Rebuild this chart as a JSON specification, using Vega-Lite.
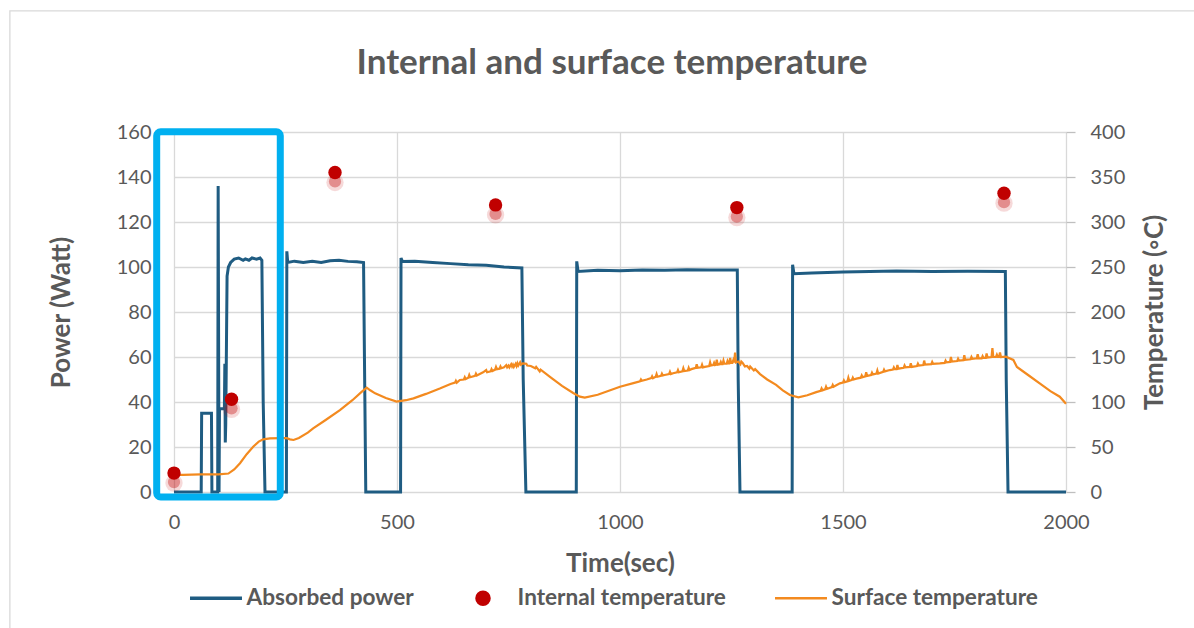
{
  "$schema": "https://vega.github.io/schema/vega-lite/v6.json",
  "width": 892,
  "height": 360,
  "autosize": {"type": "none"},
  "padding": {"left": 174, "top": 132, "right": 128, "bottom": 136},
  "background": "white",
  "title": {"text": "Internal and surface temperature", "font": "Lato", "fontSize": 35, "fontWeight": "bold", "color": "#595959", "anchor": "middle", "frame": "group", "offset": -71, "dx": -8},
  "datasets": {
    "power": [
      {"t": 0, "w": 0}, {"t": 61, "w": 0}, {"t": 62, "w": 35}, {"t": 84, "w": 35}, {"t": 85, "w": 0},
      {"t": 98, "w": 0}, {"t": 99, "w": 136}, {"t": 101, "w": 0}, {"t": 102, "w": 37}, {"t": 113, "w": 37},
      {"t": 114, "w": 57}, {"t": 115, "w": 22}, {"t": 116, "w": 30}, {"t": 119, "w": 96}, {"t": 122, "w": 100},
      {"t": 127, "w": 102}, {"t": 135, "w": 103.5}, {"t": 145, "w": 104}, {"t": 155, "w": 103}, {"t": 160, "w": 103.6},
      {"t": 168, "w": 103}, {"t": 175, "w": 104}, {"t": 185, "w": 103.5}, {"t": 193, "w": 104}, {"t": 197, "w": 103},
      {"t": 200, "w": 40}, {"t": 204, "w": 0}, {"t": 252, "w": 0}, {"t": 253, "w": 107}, {"t": 255, "w": 102},
      {"t": 270, "w": 102.6}, {"t": 290, "w": 102}, {"t": 310, "w": 102.5}, {"t": 330, "w": 102}, {"t": 350, "w": 102.8},
      {"t": 370, "w": 103}, {"t": 390, "w": 102.5}, {"t": 410, "w": 102.3}, {"t": 425, "w": 102}, {"t": 427, "w": 60},
      {"t": 430, "w": 0}, {"t": 508, "w": 0}, {"t": 509, "w": 104}, {"t": 512, "w": 102.5}, {"t": 540, "w": 102.6},
      {"t": 580, "w": 102}, {"t": 620, "w": 101.5}, {"t": 660, "w": 101}, {"t": 700, "w": 100.8}, {"t": 740, "w": 100},
      {"t": 780, "w": 99.6}, {"t": 783, "w": 50}, {"t": 789, "w": 0}, {"t": 902, "w": 0}, {"t": 903, "w": 102.5},
      {"t": 906, "w": 98}, {"t": 950, "w": 98.5}, {"t": 1000, "w": 98.3}, {"t": 1050, "w": 98.7}, {"t": 1100, "w": 98.6},
      {"t": 1150, "w": 98.8}, {"t": 1200, "w": 98.7}, {"t": 1263, "w": 98.7}, {"t": 1265, "w": 50}, {"t": 1269, "w": 0},
      {"t": 1386, "w": 0}, {"t": 1387, "w": 101}, {"t": 1390, "w": 97}, {"t": 1430, "w": 97.3}, {"t": 1500, "w": 97.8},
      {"t": 1560, "w": 98}, {"t": 1620, "w": 98.2}, {"t": 1700, "w": 98}, {"t": 1780, "w": 98.1}, {"t": 1864, "w": 98},
      {"t": 1866, "w": 50}, {"t": 1870, "w": 0}, {"t": 2000, "w": 0}
    ],
    "surface": [
      {"t": 0, "T": 19}, {"t": 20, "T": 19}, {"t": 60, "T": 19.5}, {"t": 100, "T": 19.5}, {"t": 122, "T": 20.5},
      {"t": 135, "T": 25}, {"t": 148, "T": 32}, {"t": 163, "T": 42}, {"t": 178, "T": 50.5}, {"t": 190, "T": 56},
      {"t": 200, "T": 58.5}, {"t": 215, "T": 59.5}, {"t": 240, "T": 59.8}, {"t": 253, "T": 59.8}, {"t": 260, "T": 58.5},
      {"t": 268, "T": 57.8}, {"t": 280, "T": 60}, {"t": 300, "T": 66}, {"t": 312, "T": 70.7}, {"t": 340, "T": 80},
      {"t": 372, "T": 91}, {"t": 400, "T": 102}, {"t": 420, "T": 111}, {"t": 432, "T": 116}, {"t": 440, "T": 113},
      {"t": 451, "T": 109.6}, {"t": 475, "T": 104.5}, {"t": 499, "T": 100.4}, {"t": 520, "T": 102}, {"t": 537, "T": 104},
      {"t": 565, "T": 109}, {"t": 596, "T": 115}, {"t": 620, "T": 120}, {"t": 630, "T": 121.5}, {"t": 632, "T": 123.5}, {"t": 634, "T": 121.5},
      {"t": 641, "T": 124.5}, {"t": 650, "T": 125}, {"t": 652, "T": 127.5}, {"t": 654, "T": 125.5}, {"t": 660, "T": 127},
      {"t": 662, "T": 130}, {"t": 664, "T": 127.5}, {"t": 675, "T": 129}, {"t": 677, "T": 131.5}, {"t": 679, "T": 129.5}, {"t": 693, "T": 133}, {"t": 700, "T": 135.5}, {"t": 702, "T": 133},
      {"t": 710, "T": 134}, {"t": 712, "T": 136.5}, {"t": 714, "T": 134.5},
      {"t": 720, "T": 136}, {"t": 722, "T": 139}, {"t": 724, "T": 136.5}, {"t": 730, "T": 137}, {"t": 732, "T": 139.5}, {"t": 734, "T": 137.5}, {"t": 740, "T": 138.5}, {"t": 745, "T": 141}, {"t": 747, "T": 138.5}, {"t": 750, "T": 140.5},
      {"t": 752, "T": 138.5}, {"t": 756, "T": 142}, {"t": 758, "T": 139.5}, {"t": 760, "T": 141.5}, {"t": 762, "T": 139}, {"t": 766, "T": 142.5}, {"t": 768, "T": 140}, {"t": 770, "T": 143}, {"t": 772, "T": 140.5},
      {"t": 776, "T": 144}, {"t": 778, "T": 141.5},
      {"t": 782, "T": 143}, {"t": 790, "T": 142.5}, {"t": 792, "T": 140.5}, {"t": 800, "T": 140}, {"t": 810, "T": 137.5}, {"t": 812, "T": 139}, {"t": 820, "T": 134}, {"t": 822, "T": 136}, {"t": 843, "T": 128},
      {"t": 870, "T": 118}, {"t": 895, "T": 110}, {"t": 910, "T": 106}, {"t": 921, "T": 104.8}, {"t": 950, "T": 108},
      {"t": 1000, "T": 117}, {"t": 1030, "T": 121}, {"t": 1045, "T": 123}, {"t": 1047, "T": 125}, {"t": 1049, "T": 123.5}, {"t": 1060, "T": 125}, {"t": 1070, "T": 126.5}, {"t": 1072, "T": 128.5}, {"t": 1074, "T": 126.5}, {"t": 1080, "T": 128}, {"t": 1082, "T": 131},
      {"t": 1084, "T": 128}, {"t": 1092, "T": 129}, {"t": 1094, "T": 131.5}, {"t": 1096, "T": 129.5}, {"t": 1100, "T": 130}, {"t": 1110, "T": 131}, {"t": 1112, "T": 133.5}, {"t": 1114, "T": 131}, {"t": 1119, "T": 132}, {"t": 1128, "T": 133}, {"t": 1130, "T": 135.5}, {"t": 1132, "T": 133}, {"t": 1140, "T": 134}, {"t": 1142, "T": 137.5},
      {"t": 1144, "T": 134.5}, {"t": 1152, "T": 135}, {"t": 1154, "T": 138}, {"t": 1156, "T": 135.5}, {"t": 1160, "T": 136.5}, {"t": 1170, "T": 138}, {"t": 1172, "T": 142}, {"t": 1174, "T": 138},
      {"t": 1182, "T": 138.5}, {"t": 1184, "T": 141.5}, {"t": 1186, "T": 138.5},
      {"t": 1190, "T": 139}, {"t": 1200, "T": 140}, {"t": 1202, "T": 144}, {"t": 1204, "T": 140.5}, {"t": 1209, "T": 141}, {"t": 1211, "T": 143.5}, {"t": 1213, "T": 141}, {"t": 1215, "T": 141.5},
      {"t": 1217, "T": 147}, {"t": 1219, "T": 141.5}, {"t": 1224, "T": 142}, {"t": 1226, "T": 144.5}, {"t": 1228, "T": 142}, {"t": 1230, "T": 142}, {"t": 1232, "T": 146}, {"t": 1234, "T": 142.5},
      {"t": 1239, "T": 142.5}, {"t": 1241, "T": 145.5}, {"t": 1243, "T": 143},
      {"t": 1245, "T": 143}, {"t": 1247, "T": 149}, {"t": 1249, "T": 143.5}, {"t": 1252, "T": 143.5}, {"t": 1254, "T": 146.5}, {"t": 1256, "T": 144}, {"t": 1258, "T": 155},
      {"t": 1260, "T": 144}, {"t": 1265, "T": 145}, {"t": 1270, "T": 142}, {"t": 1272, "T": 145}, {"t": 1275, "T": 143.5}, {"t": 1280, "T": 139.5},
      {"t": 1285, "T": 140}, {"t": 1290, "T": 137}, {"t": 1292, "T": 139.5}, {"t": 1300, "T": 135}, {"t": 1303, "T": 136.5}, {"t": 1314, "T": 131}, {"t": 1330, "T": 125},
      {"t": 1350, "T": 119}, {"t": 1365, "T": 113}, {"t": 1381, "T": 107.8}, {"t": 1400, "T": 105.2}, {"t": 1420, "T": 107.5},
      {"t": 1440, "T": 111}, {"t": 1450, "T": 112.5}, {"t": 1452, "T": 115}, {"t": 1454, "T": 113}, {"t": 1460, "T": 114}, {"t": 1462, "T": 117}, {"t": 1464, "T": 114.5}, {"t": 1475, "T": 116.5}, {"t": 1477, "T": 119}, {"t": 1479, "T": 117}, {"t": 1493, "T": 120.7},
      {"t": 1500, "T": 121.5}, {"t": 1502, "T": 124}, {"t": 1504, "T": 122},
      {"t": 1510, "T": 123}, {"t": 1512, "T": 127}, {"t": 1514, "T": 123.5}, {"t": 1520, "T": 124.5}, {"t": 1522, "T": 127}, {"t": 1524, "T": 125}, {"t": 1530, "T": 126}, {"t": 1540, "T": 127}, {"t": 1542, "T": 129.5}, {"t": 1544, "T": 127.5}, {"t": 1550, "T": 128.5},
      {"t": 1552, "T": 133}, {"t": 1554, "T": 129}, {"t": 1563, "T": 130}, {"t": 1565, "T": 132.5}, {"t": 1567, "T": 130.5}, {"t": 1575, "T": 131.5}, {"t": 1577, "T": 135}, {"t": 1579, "T": 131.5},
      {"t": 1590, "T": 133.5}, {"t": 1592, "T": 136}, {"t": 1594, "T": 134},
      {"t": 1605, "T": 135.5}, {"t": 1612, "T": 136}, {"t": 1614, "T": 138.5}, {"t": 1616, "T": 136.5}, {"t": 1620, "T": 136.5}, {"t": 1622, "T": 141}, {"t": 1624, "T": 137}, {"t": 1636, "T": 138}, {"t": 1638, "T": 140.5}, {"t": 1640, "T": 138.5}, {"t": 1650, "T": 139},
      {"t": 1652, "T": 143}, {"t": 1654, "T": 139}, {"t": 1666, "T": 140}, {"t": 1668, "T": 142.5}, {"t": 1670, "T": 140.5}, {"t": 1680, "T": 141}, {"t": 1682, "T": 146}, {"t": 1684, "T": 141.5},
      {"t": 1698, "T": 142}, {"t": 1700, "T": 144.5}, {"t": 1702, "T": 142.5},
      {"t": 1717, "T": 143}, {"t": 1728, "T": 143.5}, {"t": 1730, "T": 146}, {"t": 1732, "T": 144}, {"t": 1740, "T": 144.5}, {"t": 1742, "T": 150}, {"t": 1744, "T": 145}, {"t": 1756, "T": 145.5}, {"t": 1758, "T": 148}, {"t": 1760, "T": 146}, {"t": 1770, "T": 146.5},
      {"t": 1772, "T": 152}, {"t": 1774, "T": 147}, {"t": 1786, "T": 147.5}, {"t": 1788, "T": 150}, {"t": 1790, "T": 148}, {"t": 1800, "T": 148.5}, {"t": 1802, "T": 153}, {"t": 1804, "T": 148.5},
      {"t": 1811, "T": 148.5}, {"t": 1813, "T": 151}, {"t": 1815, "T": 149},
      {"t": 1820, "T": 149}, {"t": 1822, "T": 154}, {"t": 1824, "T": 149.5}, {"t": 1833, "T": 150}, {"t": 1835, "T": 160},
      {"t": 1837, "T": 150}, {"t": 1843, "T": 150}, {"t": 1845, "T": 152.5}, {"t": 1847, "T": 150}, {"t": 1850, "T": 150}, {"t": 1852, "T": 155}, {"t": 1854, "T": 150}, {"t": 1865, "T": 150.4},
      {"t": 1882, "T": 146.7}, {"t": 1890, "T": 139}, {"t": 1915, "T": 130}, {"t": 1941, "T": 120.7}, {"t": 1965, "T": 112},
      {"t": 1986, "T": 105.9}, {"t": 2000, "T": 98}
    ],
    "internal": [
      {"t": 0, "T": 21}, {"t": 129, "T": 103}, {"t": 361, "T": 355}, {"t": 721, "T": 319}, {"t": 1262, "T": 316}, {"t": 1861, "T": 332}
    ],
    "box": [{"x1": -38.8, "x2": 238.3, "y1": 160.1, "y2": -2.2}],
    "frame": [{"x1": -368, "x2": 2400, "y1": 213.8, "y2": -80}]
  },
  "layer": [
    {
      "layer": [
        {
          "data": {"name": "frame"},
          "mark": {"type": "rect", "fill": "transparent", "stroke": "#D9D9D9", "strokeWidth": 1.3},
          "encoding": {
            "x": {"field": "x1", "type": "quantitative", "scale": {"domain": [0, 2000], "nice": false},
              "axis": {"title": "Time(sec)", "values": [0, 500, 1000, 1500, 2000], "format": "d", "labelFlush": false, "grid": true, "labelPadding": 20, "titlePadding": 18}},
            "x2": {"field": "x2"},
            "y": {"field": "y1", "type": "quantitative", "scale": {"domain": [0, 160], "nice": false},
              "axis": {"title": "Power (Watt)", "orient": "left", "values": [0, 20, 40, 60, 80, 100, 120, 140, 160], "labelFlush": false, "grid": true, "labelPadding": 23, "titlePadding": 42}},
            "y2": {"field": "y2"}
          }
        },
        {
          "data": {"name": "power"},
          "mark": {"type": "line", "strokeWidth": 3, "interpolate": "linear"},
          "encoding": {
            "x": {"field": "t", "type": "quantitative", "scale": {"domain": [0, 2000], "nice": false},
              "axis": {"title": "Time(sec)", "values": [0, 500, 1000, 1500, 2000], "format": "d", "labelFlush": false, "grid": true, "labelPadding": 20, "titlePadding": 18}},
            "y": {"field": "w", "type": "quantitative", "scale": {"domain": [0, 160], "nice": false},
              "axis": {"title": "Power (Watt)", "orient": "left", "values": [0, 20, 40, 60, 80, 100, 120, 140, 160], "labelFlush": false, "grid": true, "labelPadding": 23, "titlePadding": 42}},
            "color": {"datum": "Absorbed power", "type": "nominal",
              "scale": {"domain": ["Absorbed power", "Internal temperature", "Surface temperature"], "range": ["#1F5C82", "#C00000", "#F38A1F"]},
              "legend": {
                "title": null, "orient": "none", "legendX": 31, "legendY": 455, "direction": "horizontal",
                "symbolType": "stroke", "symbolSize": 2700, "symbolStrokeWidth": 3.5,
                "labelFont": "Lato", "labelFontSize": 22.6, "labelFontWeight": "bold", "labelColor": "#595959",
                "labelOffset": 19, "columnPadding": 44, "labelLimit": 400,
                "encode": {
                  "symbols": {"update": {
                    "x": {"signal": "datum.value === 'Internal temperature' ? 25 : 11"},
                    "shape": {"signal": "datum.value === 'Internal temperature' ? 'circle' : 'stroke'"},
                    "size": {"signal": "datum.value === 'Internal temperature' ? 170 : 2700"},
                    "fill": {"signal": "datum.value === 'Internal temperature' ? '#C00000' : 'transparent'"},
                    "stroke": {"signal": "datum.value === 'Absorbed power' ? '#1F5C82' : '#F38A1F'"},
                    "strokeWidth": {"signal": "datum.value === 'Internal temperature' ? 2.5 : (datum.value === 'Absorbed power' ? 3.5 : 2.5)"},
                    "opacity": {"value": 1}
                  }},
                  "labels": {"update": {
                    "dx": {"signal": "datum.value === 'Internal temperature' ? 18 : 0"}
                  }}
                }
              }
            }
          }
        }
      ]
    },
    {
      "layer": [
        {
          "data": {"name": "surface"},
          "mark": {"type": "line", "strokeWidth": 2.2, "interpolate": "linear"},
          "encoding": {
            "x": {"field": "t", "type": "quantitative", "scale": {"domain": [0, 2000], "nice": false},
              "axis": {"title": "Time(sec)", "values": [0, 500, 1000, 1500, 2000], "format": "d", "labelFlush": false, "grid": true, "labelPadding": 20, "titlePadding": 18}},
            "y": {"field": "T", "type": "quantitative", "scale": {"domain": [0, 400], "nice": false},
              "axis": {"title": "Temperature (◦C)", "orient": "right", "values": [0, 50, 100, 150, 200, 250, 300, 350, 400], "labelFlush": false, "grid": false,
                "ticks": true, "tickSize": 9, "tickColor": "#BFBFBF", "tickWidth": 1.3, "labelAlign": "left", "labelPadding": 15, "titlePadding": 17, "titleAngle": 270, "titleBaseline": "top"}},
            "color": {"datum": "Surface temperature", "type": "nominal"}
          }
        },
        {
          "data": {"name": "internal"},
          "mark": {"type": "point", "filled": true, "color": "#C00000", "opacity": 0.15, "size": 300, "yOffset": 10},
          "encoding": {
            "x": {"field": "t", "type": "quantitative", "scale": {"domain": [0, 2000], "nice": false},
              "axis": {"title": "Time(sec)", "values": [0, 500, 1000, 1500, 2000], "format": "d", "labelFlush": false, "grid": true, "labelPadding": 20, "titlePadding": 18}},
            "y": {"field": "T", "type": "quantitative", "scale": {"domain": [0, 400], "nice": false},
              "axis": {"title": "Temperature (◦C)", "orient": "right", "values": [0, 50, 100, 150, 200, 250, 300, 350, 400], "labelFlush": false, "grid": false,
                "ticks": true, "tickSize": 9, "tickColor": "#BFBFBF", "tickWidth": 1.3, "labelAlign": "left", "labelPadding": 15, "titlePadding": 17, "titleAngle": 270, "titleBaseline": "top"}}
          }
        },
        {
          "data": {"name": "internal"},
          "mark": {"type": "point", "filled": true, "color": "#C00000", "opacity": 0.35, "size": 150, "yOffset": 9},
          "encoding": {
            "x": {"field": "t", "type": "quantitative", "scale": {"domain": [0, 2000], "nice": false},
              "axis": {"title": "Time(sec)", "values": [0, 500, 1000, 1500, 2000], "format": "d", "labelFlush": false, "grid": true, "labelPadding": 20, "titlePadding": 18}},
            "y": {"field": "T", "type": "quantitative", "scale": {"domain": [0, 400], "nice": false},
              "axis": {"title": "Temperature (◦C)", "orient": "right", "values": [0, 50, 100, 150, 200, 250, 300, 350, 400], "labelFlush": false, "grid": false,
                "ticks": true, "tickSize": 9, "tickColor": "#BFBFBF", "tickWidth": 1.3, "labelAlign": "left", "labelPadding": 15, "titlePadding": 17, "titleAngle": 270, "titleBaseline": "top"}}
          }
        },
        {
          "data": {"name": "internal"},
          "mark": {"type": "point", "filled": true, "opacity": 1, "size": 180},
          "encoding": {
            "x": {"field": "t", "type": "quantitative", "scale": {"domain": [0, 2000], "nice": false},
              "axis": {"title": "Time(sec)", "values": [0, 500, 1000, 1500, 2000], "format": "d", "labelFlush": false, "grid": true, "labelPadding": 20, "titlePadding": 18}},
            "y": {"field": "T", "type": "quantitative", "scale": {"domain": [0, 400], "nice": false},
              "axis": {"title": "Temperature (◦C)", "orient": "right", "values": [0, 50, 100, 150, 200, 250, 300, 350, 400], "labelFlush": false, "grid": false,
                "ticks": true, "tickSize": 9, "tickColor": "#BFBFBF", "tickWidth": 1.3, "labelAlign": "left", "labelPadding": 15, "titlePadding": 17, "titleAngle": 270, "titleBaseline": "top"}},
            "color": {"datum": "Internal temperature", "type": "nominal"}
          }
        }
      ]
    },
    {
      "layer": [
        {
          "data": {"name": "box"},
          "mark": {"type": "rect", "fill": "transparent", "stroke": "#00B0F0", "strokeWidth": 7, "cornerRadius": 4},
          "encoding": {
            "x": {"field": "x1", "type": "quantitative", "scale": {"domain": [0, 2000], "nice": false},
              "axis": {"title": "Time(sec)", "values": [0, 500, 1000, 1500, 2000], "format": "d", "labelFlush": false, "grid": true, "labelPadding": 20, "titlePadding": 18}},
            "x2": {"field": "x2"},
            "y": {"field": "y1", "type": "quantitative", "scale": {"domain": [0, 160], "nice": false}, "axis": null},
            "y2": {"field": "y2"}
          }
        }
      ]
    }
  ],
  "resolve": {"scale": {"y": "independent"}},
  "config": {
    "view": {"stroke": null},
    "font": "Lato",
    "axis": {
      "labelFont": "Lato", "labelFontSize": 20, "labelColor": "#595959",
      "titleFont": "Lato", "titleFontSize": 26, "titleFontWeight": "bold", "titleColor": "#595959",
      "gridColor": "#D9D9D9", "gridWidth": 1.3, "domain": false, "ticks": false
    }
  }
}
